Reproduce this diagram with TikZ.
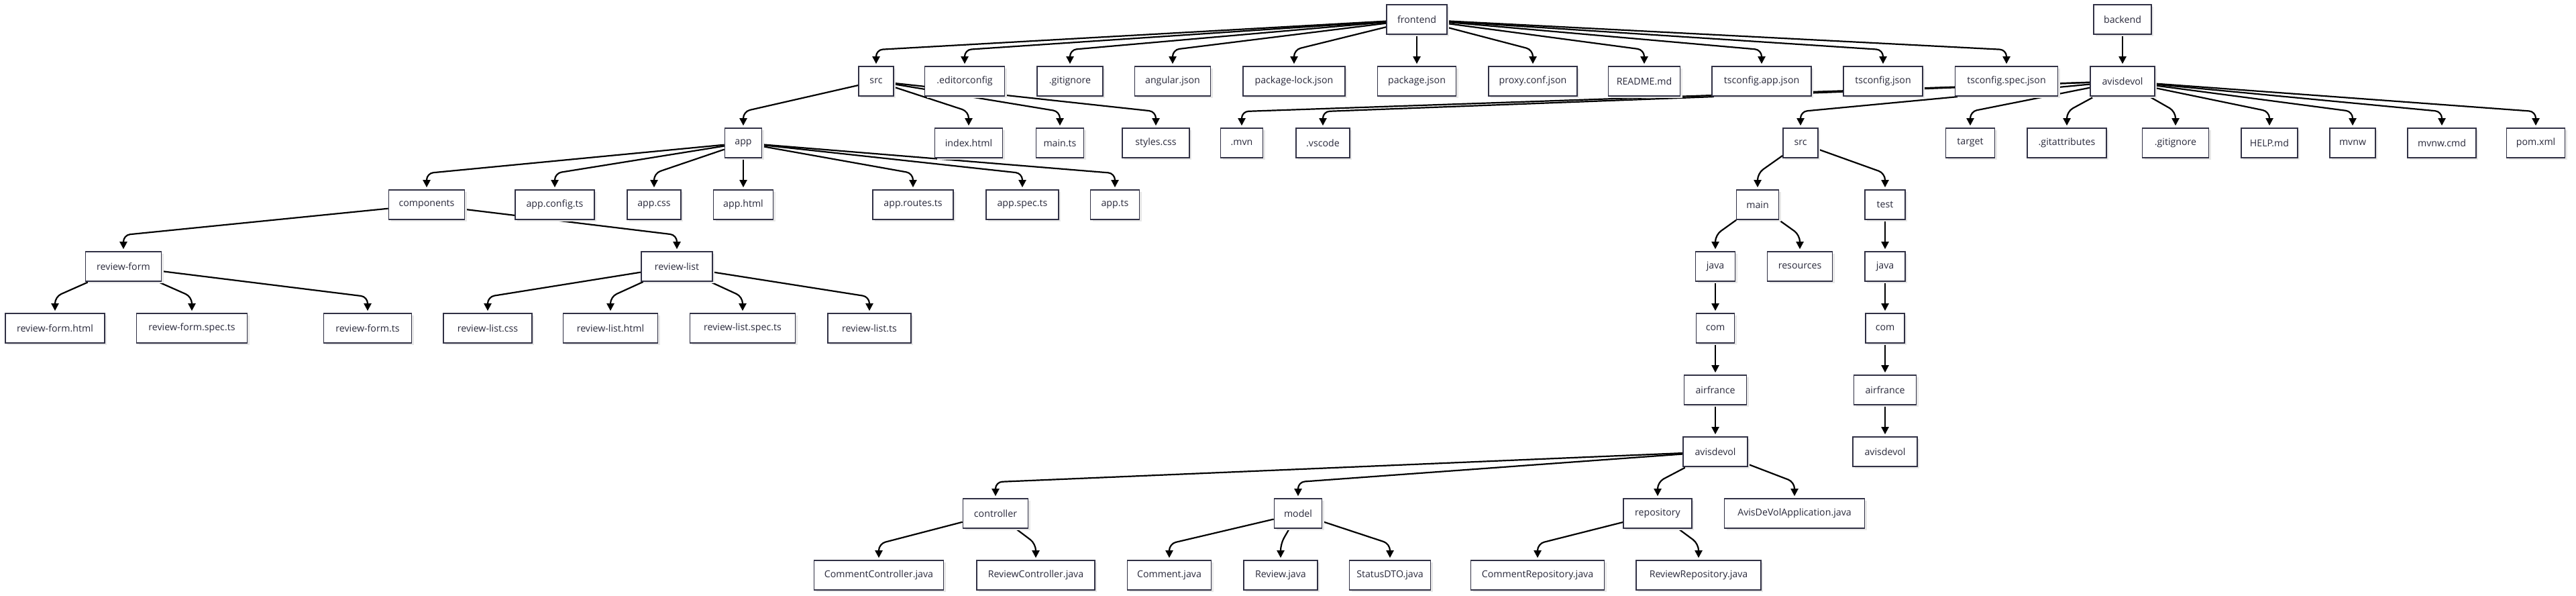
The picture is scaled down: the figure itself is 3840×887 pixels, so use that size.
\documentclass[tikz,border=0pt]{standalone}
\usepackage{fontspec}
\setmainfont{Open Sans}
\usetikzlibrary{arrows.meta,backgrounds,shadows}
\definecolor{boxline}{RGB}{48,48,68}
\definecolor{boxtext}{RGB}{40,40,58}
\tikzset{
  box/.style={draw=boxline, line width=1.7pt, fill=white, text=boxtext,
    minimum height=44pt, inner sep=0pt, font=\fontsize{14.2}{17}\selectfont,
    drop shadow={shadow xshift=3pt, shadow yshift=-3pt, fill=black!9, opacity=1}},
  edgeline/.style={draw=black, line width=2.2pt, rounded corners=10pt,
    -{Triangle[length=11pt,width=11pt]}, shorten >=3pt}
}
\newcommand\nd[5]{\node[box, minimum width=#4pt] (#1) at (#2,{29+92*#3}) {#5};}
\newcommand\ed[2]{\draw[edgeline] (#1) -- ([yshift=24pt]#2.north) -- (#2.north);}
\begin{document}
\begin{tikzpicture}[x=1pt,y=-1pt]
\useasboundingbox (0,0) rectangle (3840,887);
% row 0
\nd{fe}{2112}{0}{90}{frontend}
\nd{be}{3164}{0}{86}{backend}
% row 1
\nd{fsrc}{1306}{1}{52}{src}
\nd{edc}{1438}{1}{119}{.editorconfig}
\nd{fgi}{1595}{1}{98}{.gitignore}
\nd{ang}{1748}{1}{113}{angular.json}
\nd{pkl}{1929}{1}{152}{package-lock.json}
\nd{pkg}{2112}{1}{117}{package.json}
\nd{prx}{2285}{1}{132}{proxy.conf.json}
\nd{rdm}{2451}{1}{107}{README.md}
\nd{tsa}{2626}{1}{148}{tsconfig.app.json}
\nd{tsj}{2807}{1}{118}{tsconfig.json}
\nd{tss}{2991}{1}{153}{tsconfig.spec.json}
\nd{bav}{3164}{1}{96}{avisdevol}
% row 2
\nd{app}{1108}{2}{55}{app}
\nd{idx}{1444}{2}{101}{index.html}
\nd{mts}{1580}{2}{71}{main.ts}
\nd{sty}{1723}{2}{100}{styles.css}
\nd{mvn}{1851}{2}{63}{.mvn}
\nd{vsc}{1972}{2}{80}{.vscode}
\nd{bsrc}{2684}{2}{52}{src}
\nd{tgt}{2937}{2}{73}{target}
\nd{gat}{3081}{2}{118}{.gitattributes}
\nd{bgi}{3243}{2}{99}{.gitignore}
\nd{hlp}{3383}{2}{84}{HELP.md}
\nd{mvw}{3507}{2}{68}{mvnw}
\nd{mvc}{3640}{2}{102}{mvnw.cmd}
\nd{pom}{3780}{2}{87}{pom.xml}
% row 3
\nd{cmp}{636}{3}{113}{components}
\nd{acf}{827}{3}{118}{app.config.ts}
\nd{acs}{975}{3}{80}{app.css}
\nd{aht}{1108}{3}{89}{app.html}
\nd{art}{1361}{3}{120}{app.routes.ts}
\nd{asp}{1524}{3}{108}{app.spec.ts}
\nd{ats}{1662}{3}{73}{app.ts}
\nd{mainn}{2620}{3}{63}{main}
\nd{testn}{2810}{3}{60}{test}
% row 4
\nd{rf}{184}{4}{113}{review-form}
\nd{rl}{1009}{4}{106}{review-list}
\nd{mj}{2557}{4}{59}{java}
\nd{res}{2683}{4}{97}{resources}
\nd{tj}{2810}{4}{60}{java}
% row 5
\nd{rfh}{82}{5}{148}{review-form.html}
\nd{rfs}{286}{5}{165}{review-form.spec.ts}
\nd{rft}{548}{5}{131}{review-form.ts}
\nd{rlc}{727}{5}{132}{review-list.css}
\nd{rlh}{910}{5}{141}{review-list.html}
\nd{rls}{1107}{5}{157}{review-list.spec.ts}
\nd{rlt}{1296}{5}{124}{review-list.ts}
\nd{mc}{2557}{5}{57}{com}
\nd{tc}{2810}{5}{58}{com}
% row 6
\nd{ma}{2557}{6}{93}{airfrance}
\nd{ta}{2810}{6}{93}{airfrance}
% row 7
\nd{mav}{2557}{7}{96}{avisdevol}
\nd{tav}{2810}{7}{96}{avisdevol}
% row 8
\nd{ctl}{1484}{8}{97}{controller}
\nd{mdl}{1935}{8}{71}{model}
\nd{rep}{2471}{8}{102}{repository}
\nd{ava}{2675}{8}{209}{AvisDeVolApplication.java}
% row 9
\nd{ccj}{1310}{9}{193}{CommentController.java}
\nd{rcj}{1544}{9}{176}{ReviewController.java}
\nd{cj}{1743}{9}{125}{Comment.java}
\nd{rj}{1909}{9}{110}{Review.java}
\nd{sdj}{2072}{9}{121}{StatusDTO.java}
\nd{crj}{2292}{9}{199}{CommentRepository.java}
\nd{rrj}{2532}{9}{186}{ReviewRepository.java}
\begin{pgfonlayer}{background}
\foreach \c in {fsrc,edc,fgi,ang,pkl,pkg,prx,rdm,tsa,tsj,tss} {\ed{fe}{\c}}
\ed{be}{bav}
\foreach \c in {app,idx,mts,sty} {\ed{fsrc}{\c}}
\foreach \c in {mvn,vsc,bsrc,tgt,gat,bgi,hlp,mvw,mvc,pom} {\ed{bav}{\c}}
\foreach \c in {cmp,acf,acs,aht,art,asp,ats} {\ed{app}{\c}}
\ed{bsrc}{mainn}
\ed{bsrc}{testn}
\ed{cmp}{rf}
\ed{cmp}{rl}
\ed{mainn}{mj}
\ed{mainn}{res}
\ed{testn}{tj}
\foreach \c in {rfh,rfs,rft} {\ed{rf}{\c}}
\foreach \c in {rlc,rlh,rls,rlt} {\ed{rl}{\c}}
\ed{mj}{mc}
\ed{tj}{tc}
\ed{mc}{ma}
\ed{tc}{ta}
\ed{ma}{mav}
\ed{ta}{tav}
\foreach \c in {ctl,mdl,rep,ava} {\ed{mav}{\c}}
\ed{ctl}{ccj}
\ed{ctl}{rcj}
\foreach \c in {cj,rj,sdj} {\ed{mdl}{\c}}
\ed{rep}{crj}
\ed{rep}{rrj}
\end{pgfonlayer}
\end{tikzpicture}
\end{document}
